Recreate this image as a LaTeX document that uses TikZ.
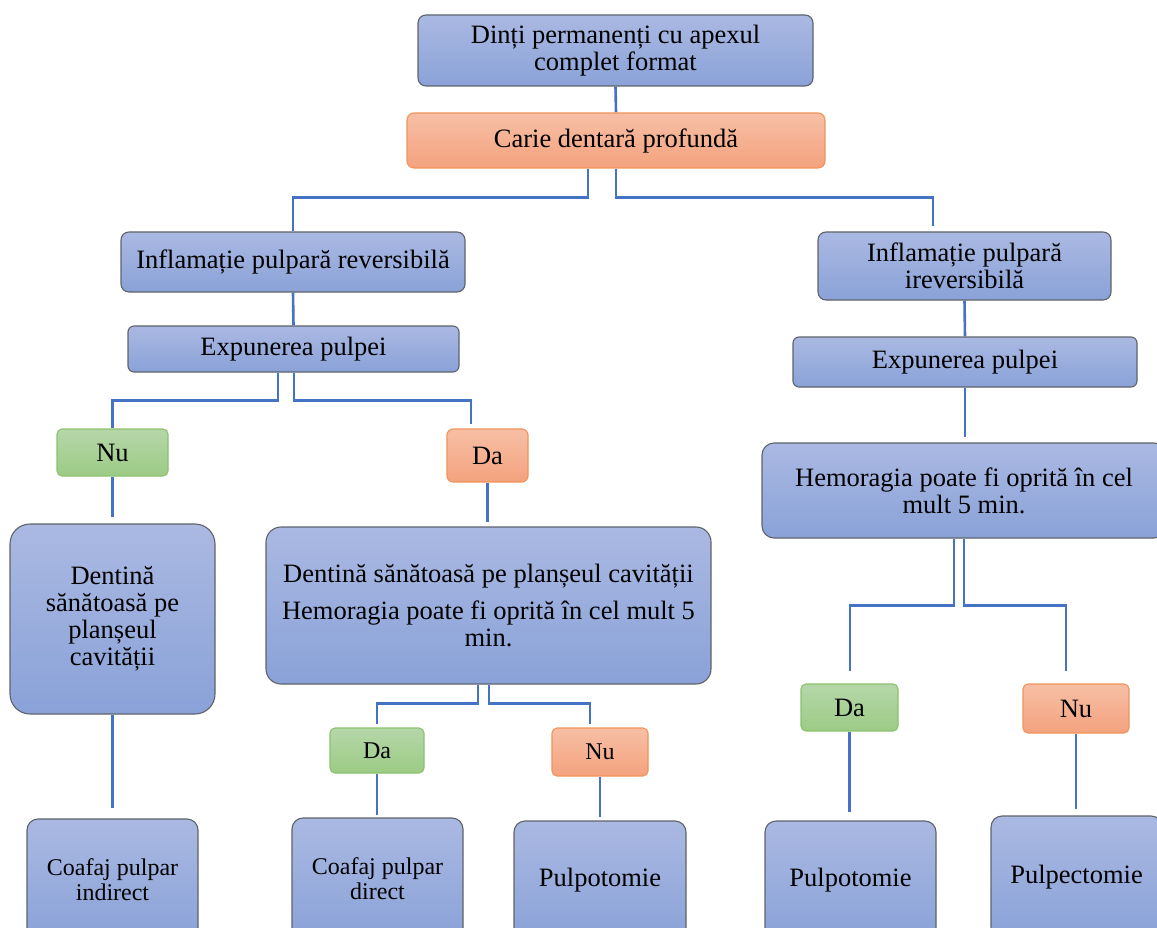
\documentclass[tikz,border=0pt]{standalone}
\usepackage{fontspec}
\setmainfont{Liberation Serif}
\usetikzlibrary{backgrounds}
\definecolor{bluetop}{HTML}{AAB9E2}
\definecolor{bluebot}{HTML}{8AA2D8}
\definecolor{blueborder}{HTML}{5E636B}
\definecolor{orgtop}{HTML}{F7BFA5}
\definecolor{orgbot}{HTML}{F4A27E}
\definecolor{orgborder}{HTML}{F0945A}
\definecolor{grntop}{HTML}{B6D7A9}
\definecolor{grnbot}{HTML}{9CCB85}
\definecolor{grnborder}{HTML}{8CC26E}
\definecolor{connblue}{HTML}{4472C4}
\begin{document}
\begin{tikzpicture}[x=1pt,y=-1pt,
  basebox/.style={draw, line width=1.1pt, inner sep=0pt, align=center, text=black,
    font=\fontsize{26.5}{27}\selectfont},
  bluebox/.style={basebox, draw=blueborder, top color=bluetop, bottom color=bluebot},
  orgbox/.style={basebox, draw=orgborder, top color=orgtop, bottom color=orgbot},
  grnbox/.style={basebox, draw=grnborder, top color=grntop, bottom color=grnbot},
  smallfont/.style={font=\fontsize{24}{25}\selectfont},
  conn/.style={draw=connblue, line width=2.6pt}]
\useasboundingbox (0,0) rectangle (1157,928);
\clip (0,0) rectangle (1157,928);

% top levels
\node[bluebox, rounded corners=8pt, minimum width=395pt, minimum height=71pt] (top) at (615.5,50.5)
  {Dinți permanenți cu apexul\\complet format};
\node[orgbox, rounded corners=7pt, minimum width=418pt, minimum height=55pt] (carie) at (616,140.5)
  {Carie dentară profundă};
\node[bluebox, rounded corners=8pt, minimum width=344pt, minimum height=60pt] (infrev) at (293,262)
  {Inflamație pulpară reversibilă};
\node[bluebox, rounded corners=8pt, minimum width=293pt, minimum height=68pt] (irev) at (964.5,266)
  {Inflamație pulpară\\ireversibilă};
\node[bluebox, rounded corners=6pt, minimum width=331pt, minimum height=46pt] (expL) at (293.5,349)
  {Expunerea pulpei};
\node[bluebox, rounded corners=6pt, minimum width=344pt, minimum height=50pt] (expR) at (965,362)
  {Expunerea pulpei};
\node[bluebox, rounded corners=12pt, minimum width=404pt, minimum height=95pt] (hemo) at (964,490.5)
  {Hemoragia poate fi oprită în cel\\mult 5 min.};

% left branch
\node[grnbox, rounded corners=5pt, minimum width=111pt, minimum height=47pt] (nuL) at (112.5,452.5) {Nu};
\node[orgbox, rounded corners=6pt, minimum width=81pt, minimum height=53pt] (daL) at (487.5,455.5) {Da};
\node[bluebox, rounded corners=20pt, minimum width=205pt, minimum height=190pt] (dent) at (112.5,619)
  {Dentină\\sănătoasă pe\\planșeul\\cavității};
\node[bluebox, rounded corners=15pt, minimum width=445pt, minimum height=157pt] (mid) at (488.5,605.5)
  {Dentină sănătoasă pe planșeul cavității\\[10pt]Hemoragia poate fi oprită în cel mult 5\\min.};
\node[grnbox, smallfont, rounded corners=5pt, minimum width=94pt, minimum height=45pt] (daS) at (377,750.5) {Da};
\node[orgbox, smallfont, rounded corners=5pt, minimum width=96pt, minimum height=48pt] (nuS) at (600,752) {Nu};

% right branch
\node[grnbox, rounded corners=5pt, minimum width=97pt, minimum height=47pt] (daR) at (849.5,707.5) {Da};
\node[orgbox, rounded corners=5pt, minimum width=106pt, minimum height=49pt] (nuR) at (1076,708.5) {Nu};

% bottom boxes
\node[bluebox, smallfont, rounded corners=11pt, minimum width=171pt, minimum height=121pt] (coafI) at (112.5,879.5)
  {Coafaj pulpar\\indirect};
\node[bluebox, smallfont, rounded corners=11pt, minimum width=171pt, minimum height=122pt] (coafD) at (377.5,879)
  {Coafaj pulpar\\direct};
\node[bluebox, rounded corners=11pt, minimum width=172pt, minimum height=119pt] (pulpM) at (600,880.5)
  {Pulpotomie};
\node[bluebox, rounded corners=11pt, minimum width=171pt, minimum height=119pt] (pulpR) at (850.5,880.5)
  {Pulpotomie};
\node[bluebox, rounded corners=11pt, minimum width=171pt, minimum height=122pt] (pulpE) at (1076.5,877)
  {Pulpectomie};

% free ends of connectors
\coordinate (irevin) at (933,226);
\coordinate (daLin) at (471,424);
\coordinate (nuLout) at (112.5,517);
\coordinate (dentout) at (112.5,808);
\coordinate (daLout) at (487.5,522);
\coordinate (daSin) at (377,724);
\coordinate (nuSin) at (590,724);
\coordinate (daSout) at (377,815);
\coordinate (nuSout) at (600,817);
\coordinate (expRout) at (965,437);
\coordinate (daRin) at (850,671);
\coordinate (nuRin) at (1066,671);
\coordinate (daRout) at (849.5,812);
\coordinate (nuRout) at (1076,809);

\begin{scope}[on background layer]
\draw[conn] (top.south) -- (carie.north);
\draw[conn] ([xshift=-28pt]carie.south) -- ++(0,29) -| (infrev.north);
\draw[conn] (carie.south) -- ++(0,29) -| (irevin);
\draw[conn] (infrev.south) -- (expL.north);
\draw[conn] ([xshift=-15.5pt]expL.south) -- ++(0,28) -| (nuL.north);
\draw[conn] ([xshift=0.5pt]expL.south) -- ++(0,28) -| (daLin);
\draw[conn] (nuL.south) -- (nuLout);
\draw[conn] (dent.south) -- (dentout);
\draw[conn] (daL.south) -- (daLout);
\draw[conn] ([xshift=-10.5pt]mid.south) -- ++(0,19) -| (daSin);
\draw[conn] ([xshift=0.5pt]mid.south) -- ++(0,19) -| (nuSin);
\draw[conn] (daS.south) -- (daSout);
\draw[conn] (nuS.south) -- (nuSout);
\draw[conn] (irev.south) -- (expR.north);
\draw[conn] (expR.south) -- (expRout);
\draw[conn] ([xshift=-10pt]hemo.south) -- ++(0,67) -| (daRin);
\draw[conn] (hemo.south) -- ++(0,67) -| (nuRin);
\draw[conn] (daR.south) -- (daRout);
\draw[conn] (nuR.south) -- (nuRout);
\end{scope}
\end{tikzpicture}
\end{document}
